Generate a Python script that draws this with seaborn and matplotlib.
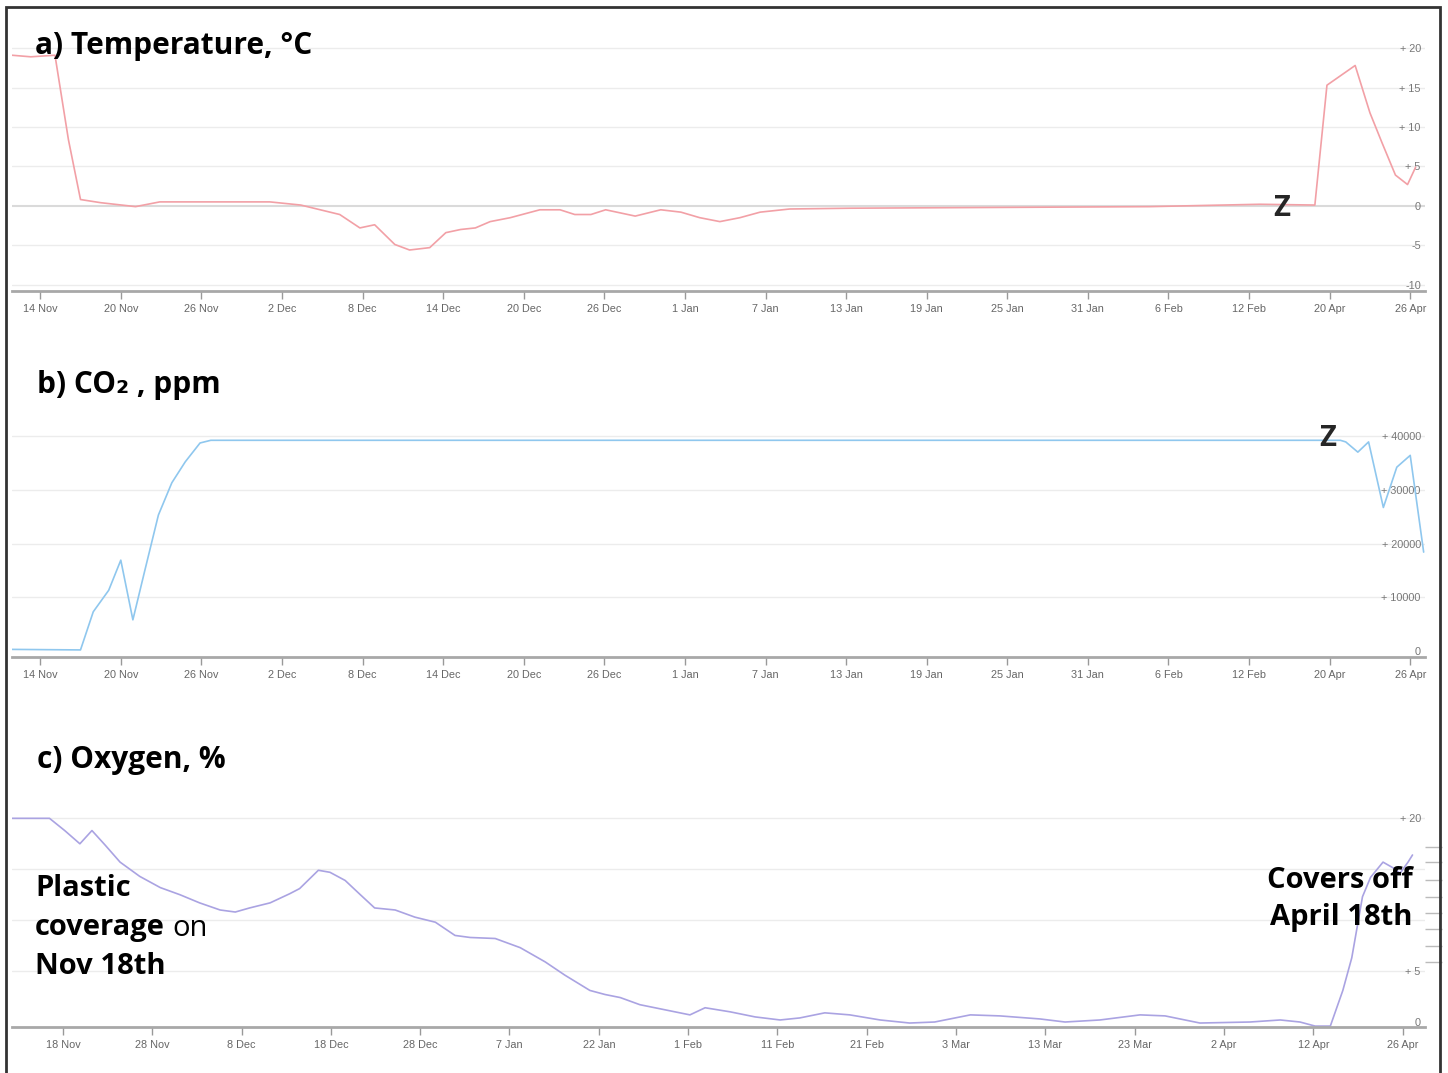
import matplotlib
matplotlib.use("Agg")
import matplotlib.pyplot as plt
from matplotlib.patches import Rectangle
import seaborn as sns

# x positions in axis units (panels a/b: days from 14 Nov on the compressed axis,
# panel c: ticks every 10 units)
temp_x = [-2.1, -0.7, 1.1, 2.1, 3.0, 4.5, 7.1, 8.9, 17.1, 19.4, 22.3, 23.8, 24.9,
          26.4, 27.5, 29.0, 30.2, 31.3, 32.4, 33.5, 35.0, 37.2, 38.7, 39.8, 41.0,
          42.1, 43.2, 44.3, 46.2, 47.7, 49.1, 50.6, 52.1, 53.6, 55.8, 60.3, 71.5,
          82.6, 90.8, 94.9, 95.8, 97.9, 99.0, 99.9, 100.9, 101.8, 102.4]
temp_y = [19.1, 18.9, 19.1, 8.4, 0.8, 0.4, -0.1, 0.5, 0.5, 0.1, -1.1, -2.8, -2.4,
          -4.9, -5.6, -5.3, -3.4, -3.0, -2.8, -2.0, -1.5, -0.5, -0.5, -1.1, -1.1,
          -0.5, -0.9, -1.3, -0.5, -0.8, -1.5, -2.0, -1.5, -0.8, -0.4, -0.3, -0.2,
          -0.1, 0.2, 0.1, 15.3, 17.8, 11.8, 8.0, 3.9, 2.7, 4.9]

co2_x = [-2.1, 3.0, 3.95, 5.1, 6.0, 6.9, 7.8, 8.8, 9.8, 10.8, 11.9, 12.7, 96.8,
         97.2, 98.1, 98.9, 100.0, 101.0, 102.0, 103.0]
co2_y = [300, 200, 7300, 11300, 16900, 5800, 15100, 25300, 31300, 35200, 38700,
         39200, 39200, 38900, 37000, 38900, 26700, 34200, 36400, 18400]

oxy_x = [-5.7, -1.5, 0.2, 1.9, 3.25, 4.7, 6.4, 8.6, 10.9, 13.1, 15.3, 17.6, 19.3,
         20.9, 23.2, 25.4, 26.5, 28.6, 29.9, 31.6, 33.3, 34.9, 37.2, 39.4, 41.7,
         43.9, 45.6, 48.4, 51.2, 54.0, 56.2, 59.0, 60.7, 62.4, 64.6, 67.4, 70.2,
         71.9, 74.7, 77.5, 80.3, 82.5, 85.3, 88.1, 91.5, 94.8, 97.6, 101.6, 104.9,
         109.4, 112.2, 116.1, 120.6, 123.4, 127.3, 132.9, 136.3, 138.5, 140.2,
         141.9, 143.3, 144.3, 145.5, 146.4, 147.8, 149.0, 149.7, 150.6, 151.1]
oxy_y = [20.0, 20.0, 18.8, 17.5, 18.8, 17.4, 15.7, 14.3, 13.2, 12.5, 11.7, 11.0,
         10.8, 11.2, 11.7, 12.6, 13.1, 14.9, 14.7, 13.9, 12.5, 11.2, 11.0, 10.3,
         9.8, 8.5, 8.3, 8.2, 7.3, 5.9, 4.6, 3.1, 2.7, 2.4, 1.7, 1.2, 0.7, 1.4, 1.0,
         0.5, 0.2, 0.4, 0.9, 0.7, 0.2, -0.1, 0.0, 0.7, 0.6, 0.3, 0.0, 0.2, 0.7,
         0.6, -0.1, 0.0, 0.2, 0.0, -0.4, -0.4, 3.1, 6.3, 12.3, 14.2, 15.7, 15.1,
         14.6, 15.7, 16.4]

ab_tick_labels = ["14 Nov", "20 Nov", "26 Nov", "2 Dec", "8 Dec", "14 Dec", "20 Dec",
                  "26 Dec", "1 Jan", "7 Jan", "13 Jan", "19 Jan", "25 Jan", "31 Jan",
                  "6 Feb", "12 Feb", "20 Apr", "26 Apr"]
c_tick_labels = ["18 Nov", "28 Nov", "8 Dec", "18 Dec", "28 Dec", "7 Jan", "22 Jan",
                 "1 Feb", "11 Feb", "21 Feb", "3 Mar", "13 Mar", "23 Mar", "2 Apr",
                 "12 Apr", "26 Apr"]

temp_ticks = [20, 15, 10, 5, 0, -5, -10]
temp_tick_labels = ["+ 20", "+ 15", "+ 10", "+ 5", "0", "-5", "-10"]
co2_ticks = [40000, 30000, 20000, 10000, 0]
co2_tick_labels = ["+ 40000", "+ 30000", "+ 20000", "+ 10000", "0"]
oxy_ticks = [20, 5, 0]
oxy_tick_labels = ["+ 20", "+ 5", "0"]

sns.set_theme(style="white")
plt.rcParams['font.family'] = ['Liberation Sans', 'DejaVu Sans']
BOLD_FONT = ['Open Sans', 'DejaVu Sans']

W, H = 1448, 1073
fig = plt.figure(figsize=(W / 100, H / 100), dpi=100)


def px_axes(left, top, right, bottom):
    return fig.add_axes([left / W, 1 - bottom / H, (right - left) / W, (bottom - top) / H])


def style_axis(ax, xticks, xlabels, yticks, ylabels, grid_vals):
    for s in ["top", "left", "right"]:
        ax.spines[s].set_visible(False)
    ax.spines["bottom"].set_color("#a8a8a8")
    ax.spines["bottom"].set_linewidth(2)
    ax.set_xticks(xticks)
    ax.set_xticklabels(xlabels)
    ax.tick_params(axis="x", direction="out", length=6, width=1, color="#999999",
                   labelsize=7.8, labelcolor="#666666", pad=3, bottom=True)
    ax.set_yticks(yticks)
    ax.set_yticklabels(ylabels)
    ax.yaxis.tick_right()
    ax.tick_params(axis="y", length=0, labelsize=7.8, labelcolor="#777777", pad=-3)
    for lab in ax.get_yticklabels():
        lab.set_horizontalalignment("right")
    for g in grid_vals:
        ax.axhline(g, color="#ececec", lw=1, zorder=0)
    ax.set_xlabel("")
    ax.set_ylabel("")


# a) temperature
ax1 = px_axes(12, 30, 1425, 291)
sns.lineplot(x=temp_x, y=temp_y, ax=ax1, color="#f2a0a6", linewidth=1.2, sort=False)
ax1.set_xlim(-2.1, 103.1)
ax1.set_ylim(-10.8, 22.3)
style_axis(ax1, list(range(0, 103, 6)), ab_tick_labels, temp_ticks, temp_tick_labels,
           [20, 15, 10, 5, -5, -10])
ax1.axhline(0, color="#dadada", lw=1.5, zorder=0)

# b) CO2
ax2 = px_axes(12, 420, 1425, 657)
sns.lineplot(x=co2_x, y=co2_y, ax=ax2, color="#8fc7ee", linewidth=1.2, sort=False)
ax2.set_xlim(-2.1, 103.1)
ax2.set_ylim(-1116, 42977)
style_axis(ax2, list(range(0, 103, 6)), ab_tick_labels, co2_ticks, co2_tick_labels,
           [40000, 30000, 20000, 10000])

# c) oxygen
ax3 = px_axes(12, 800, 1425, 1027)
sns.lineplot(x=oxy_x, y=oxy_y, ax=ax3, color="#aaa3e2", linewidth=1.2, sort=False)
ax3.set_xlim(-5.7, 152.5)
ax3.set_ylim(-0.49, 21.8)
style_axis(ax3, list(range(0, 151, 10)), c_tick_labels, oxy_ticks, oxy_tick_labels,
           [20, 15, 10, 5])
ax3.set_yticks([17.2, 15.7, 13.9, 12.3, 10.7, 9.1, 7.5, 5.9], minor=True)
ax3.tick_params(axis="y", which="minor", right=True, direction="out", length=12,
                width=1, color="#bbbbbb", pad=0)

# titles and notes
title_kw = dict(fontsize=21.5, fontweight="bold", color="black", va="center", family=BOLD_FONT)
fig.text(35 / W, 1 - 46 / H, "a) Temperature, °C", **title_kw)
fig.text(37 / W, 1 - 385 / H, "b) CO\u2082 , ppm", **title_kw)
fig.text(37 / W, 1 - 760 / H, "c) Oxygen, %", **title_kw)

z_kw = dict(fontsize=21, fontweight="bold", ha="center", va="center", family=BOLD_FONT)
fig.text(1282 / W, 1 - 208 / H, "Z", **z_kw)
fig.text(1328 / W, 1 - 438 / H, "Z", **z_kw)

note_kw = dict(fontsize=21, color="black", va="center", family=BOLD_FONT)
fig.text(35 / W, 1 - 888 / H, "Plastic", fontweight="bold", **note_kw)
cov = fig.text(35 / W, 1 - 928 / H, "coverage", fontweight="bold", **note_kw)
fig.text(35 / W, 1 - 966 / H, "Nov 18th", fontweight="bold", **note_kw)
renderer = fig.canvas.get_renderer()
bb = cov.get_window_extent(renderer)
fig.text(bb.x1 / W + 7 / W, 1 - 928 / H, "on", **note_kw)

fig.text(1413 / W, 1 - 880 / H, "Covers off", fontweight="bold", ha="right", **note_kw)
fig.text(1413 / W, 1 - 918 / H, "April 18th", fontweight="bold", ha="right", **note_kw)

fig.patches.append(Rectangle((6 / W, -0.02), 1434 / W, 1.02 - 7 / H, transform=fig.transFigure,
                             fill=False, edgecolor="#333333", linewidth=2))

fig.savefig("out.png", dpi=100)
